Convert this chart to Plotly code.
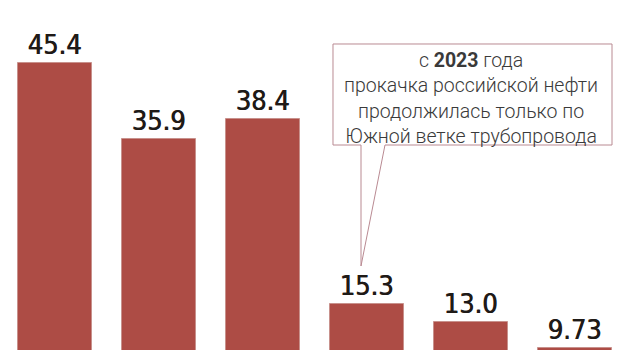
import plotly.graph_objects as go

years = ["2020", "2021", "2022", "2023", "2024", "2025"]
values = [45.4, 35.9, 38.4, 15.3, 13.0, 9.73]
labels = ["45.4", "35.9", "38.4", "15.3", "13.0", "9.73"]
note_lines = ["с <b>2023</b> года", "прокачка российской нефти",
              "продолжилась только по", "Южной ветке трубопровода"]

W, H = 630, 350

fig = go.Figure(go.Bar(
    x=years, y=values, text=labels, textposition="outside",
    texttemplate="%{text}", cliponaxis=False, width=0.712,
    marker=dict(color="#AD4C45", line=dict(color="#C8918C", width=1)),
    textfont=dict(family="DejaVu Sans Condensed", size=27, color="#1F1A17",
                  shadow="0.7px 0 0 #1F1A17"),
    hoverinfo="skip",
))

def px(x, y):
    return f"{x/W:.5f},{1 - y/H:.5f}"

path = ("M " + px(361, 145) + " L " + px(333, 145) + " L " + px(333, 44) +
        " L " + px(612, 44) + " L " + px(612, 145) + " L " + px(385, 145) +
        " L " + px(361, 266) + " Z")

fig.add_shape(type="path", path=path, xref="paper", yref="paper",
              line=dict(color="#B98A92", width=1), fillcolor="rgba(0,0,0,0)")

fig.add_annotation(x=471/W, y=1 - 98/H, xref="paper", yref="paper",
                   text="<br>".join(note_lines), showarrow=False,
                   xanchor="center", yanchor="middle", align="center",
                   font=dict(family="Roboto", size=19.5, color="#3A3A3A", weight=300))

fig.update_layout(
    width=W, height=H, margin=dict(l=0, r=0, t=0, b=0),
    paper_bgcolor="white", plot_bgcolor="white", showlegend=False,
    xaxis=dict(visible=False, range=[-55/104, 575/104]),
    yaxis=dict(visible=False, range=[9.5, 53.25]),
    bargap=0,
)

fig.write_html("out.html")
